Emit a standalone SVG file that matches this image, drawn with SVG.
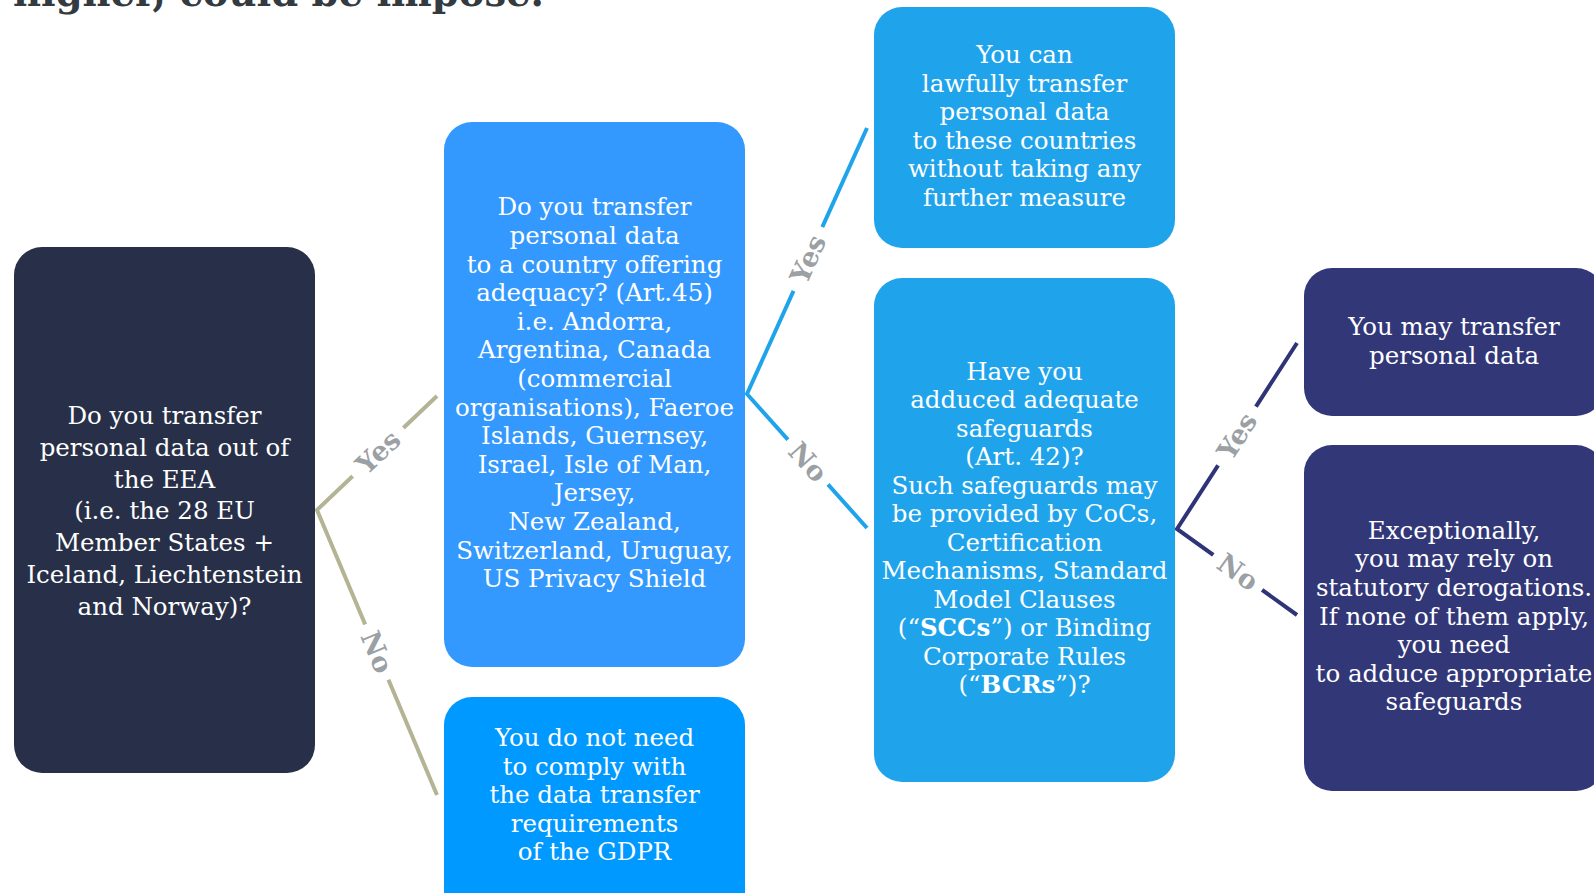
<svg xmlns="http://www.w3.org/2000/svg" width="1594" height="893" viewBox="0 0 1594 893">
<style>
.nt{font-family:"DejaVu Serif","Liberation Serif",serif;font-size:24.5px;fill:#ffffff;text-anchor:middle}
.b{font-weight:bold}
.lbl{font-family:"DejaVu Serif","Liberation Serif",serif;font-size:27px;font-weight:bold;fill:#9ba0a4;text-anchor:middle;dominant-baseline:central}
.c1{stroke:#b4b394;stroke-width:4;fill:none}
.c2{stroke:#1fa4ec;stroke-width:4;fill:none}
.c3{stroke:#2f3479;stroke-width:4;fill:none}
</style>
<rect width="1594" height="893" fill="#ffffff"/>
<text x="13" y="6" font-family="DejaVu Serif,'Liberation Serif',serif" font-size="40" font-weight="bold" fill="#333b40" textLength="531" lengthAdjust="spacingAndGlyphs">higher, could be impose.</text>

<g id="connectors">
  <polyline class="c1" points="437,396 317,510 437,795"/>
  <polyline class="c2" points="867,128 747,394 867,528"/>
  <polyline class="c3" points="1297,343 1177,529 1297,615"/>
  <g transform="translate(378,452) rotate(-43.5)"><rect x="-35" y="-16" width="70" height="32" fill="#fff"/><text class="lbl" x="0" y="0">Yes</text></g>
  <g transform="translate(377,652) rotate(67.2)"><rect x="-30" y="-16" width="60" height="32" fill="#fff"/><text class="lbl" x="0" y="0">No</text></g>
  <g transform="translate(808,259) rotate(-65.7)"><rect x="-35" y="-16" width="70" height="32" fill="#fff"/><text class="lbl" x="0" y="0">Yes</text></g>
  <g transform="translate(808,462) rotate(48.2)"><rect x="-30" y="-16" width="60" height="32" fill="#fff"/><text class="lbl" x="0" y="0">No</text></g>
  <g transform="translate(1237,436) rotate(-57.2)"><rect x="-35" y="-16" width="70" height="32" fill="#fff"/><text class="lbl" x="0" y="0">Yes</text></g>
  <g transform="translate(1238,572) rotate(35.6)"><rect x="-30" y="-16" width="60" height="32" fill="#fff"/><text class="lbl" x="0" y="0">No</text></g>
</g>

<g id="n1">
  <rect x="14" y="247" width="301" height="526" rx="28" fill="#273048"/>
  <text class="nt"><tspan x="164.5" y="424">Do you transfer</tspan><tspan x="164.5" y="455.8">personal data out of</tspan><tspan x="164.5" y="487.6">the EEA</tspan><tspan x="164.5" y="519.4">(i.e. the 28 EU</tspan><tspan x="164.5" y="551.2">Member States +</tspan><tspan x="164.5" y="583">Iceland, Liechtenstein</tspan><tspan x="164.5" y="614.8">and Norway)?</tspan></text>
</g>

<g id="n2">
  <rect x="444" y="122" width="301" height="545" rx="28" fill="#3399fe"/>
  <text class="nt"><tspan x="594.5" y="215.4">Do you transfer</tspan><tspan x="594.5" y="244">personal data</tspan><tspan x="594.5" y="272.6">to a country offering</tspan><tspan x="594.5" y="301.2">adequacy? (Art.45)</tspan><tspan x="594.5" y="329.8">i.e. Andorra,</tspan><tspan x="594.5" y="358.4">Argentina, Canada</tspan><tspan x="594.5" y="387">(commercial</tspan><tspan x="594.5" y="415.6">organisations), Faeroe</tspan><tspan x="594.5" y="444.2">Islands, Guernsey,</tspan><tspan x="594.5" y="472.8">Israel, Isle of Man,</tspan><tspan x="594.5" y="501.4">Jersey,</tspan><tspan x="594.5" y="530">New Zealand,</tspan><tspan x="594.5" y="558.6">Switzerland, Uruguay,</tspan><tspan x="594.5" y="587.2">US Privacy Shield</tspan></text>
</g>

<g id="n4">
  <rect x="444" y="697" width="301" height="230" rx="28" fill="#0099ff"/>
  <text class="nt"><tspan x="594.5" y="746">You do not need</tspan><tspan x="594.5" y="774.5">to comply with</tspan><tspan x="594.5" y="803">the data transfer</tspan><tspan x="594.5" y="831.5">requirements</tspan><tspan x="594.5" y="860">of the GDPR</tspan></text>
</g>

<g id="n3">
  <rect x="874" y="7" width="301" height="241" rx="28" fill="#1fa4ec"/>
  <text class="nt"><tspan x="1024.5" y="63">You can</tspan><tspan x="1024.5" y="91.6">lawfully transfer</tspan><tspan x="1024.5" y="120.2">personal data</tspan><tspan x="1024.5" y="148.8">to these countries</tspan><tspan x="1024.5" y="177.4">without taking any</tspan><tspan x="1024.5" y="206">further measure</tspan></text>
</g>

<g id="n5">
  <rect x="874" y="278" width="301" height="504" rx="28" fill="#1fa4ec"/>
  <text class="nt"><tspan x="1024.5" y="380">Have you</tspan><tspan x="1024.5" y="408.45">adduced adequate</tspan><tspan x="1024.5" y="436.9">safeguards</tspan><tspan x="1024.5" y="465.35">(Art. 42)?</tspan><tspan x="1024.5" y="493.8">Such safeguards may</tspan><tspan x="1024.5" y="522.25">be provided by CoCs,</tspan><tspan x="1024.5" y="550.7">Certification</tspan><tspan x="1024.5" y="579.15">Mechanisms, Standard</tspan><tspan x="1024.5" y="607.6">Model Clauses</tspan><tspan x="1024.5" y="636.05">(“<tspan class="b">SCCs</tspan>”) or Binding</tspan><tspan x="1024.5" y="664.5">Corporate Rules</tspan><tspan x="1024.5" y="692.95">(“<tspan class="b">BCRs</tspan>”)?</tspan></text>
</g>

<g id="n6">
  <rect x="1304" y="268" width="300" height="148" rx="28" fill="#323778"/>
  <text class="nt"><tspan x="1454" y="335.3">You may transfer</tspan><tspan x="1454" y="363.8">personal data</tspan></text>
</g>

<g id="n7">
  <rect x="1304" y="445" width="300" height="346" rx="28" fill="#323778"/>
  <text class="nt"><tspan x="1454" y="538.7">Exceptionally,</tspan><tspan x="1454" y="567.3">you may rely on</tspan><tspan x="1454" y="595.9">statutory derogations.</tspan><tspan x="1454" y="624.5">If none of them apply,</tspan><tspan x="1454" y="653.1">you need</tspan><tspan x="1454" y="681.7">to adduce appropriate</tspan><tspan x="1454" y="710.3">safeguards</tspan></text>
</g>
</svg>
